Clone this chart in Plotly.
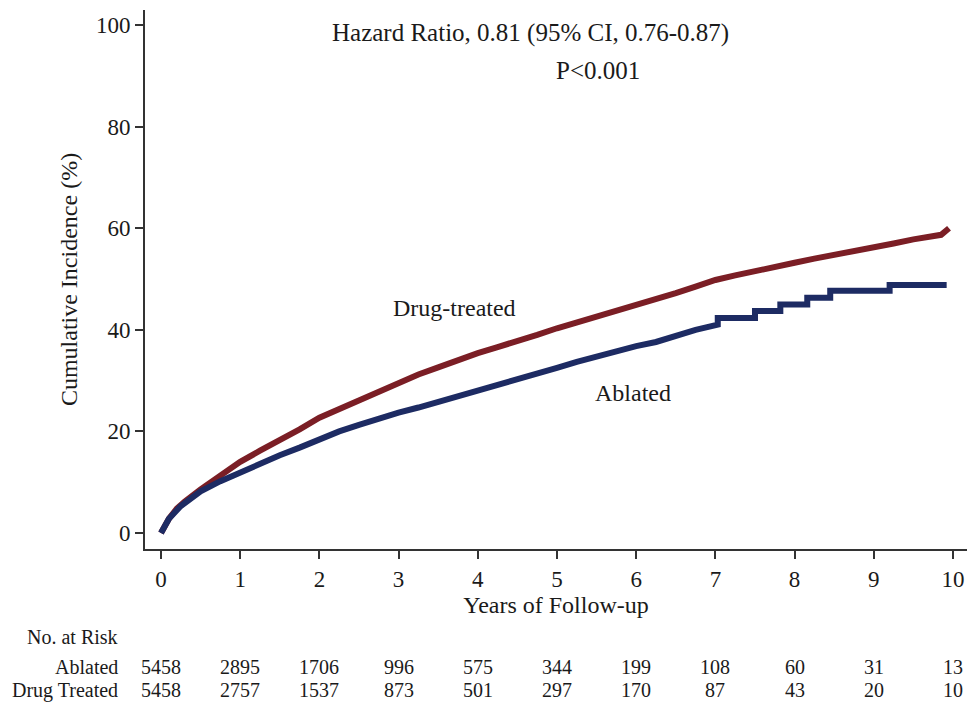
import plotly.graph_objects as go

# ---- Data ----
drug_t = [0, 0.05, 0.1, 0.2, 0.3, 0.5, 0.75, 1.0, 1.25, 1.5, 1.75, 2.0, 2.25, 2.5, 2.75,
          3.0, 3.25, 3.5, 3.75, 4.0, 4.25, 4.5, 4.75, 5.0, 5.25, 5.5, 5.75, 6.0, 6.25,
          6.5, 6.75, 7.0, 7.25, 7.5, 7.75, 8.0, 8.25, 8.5, 8.75, 9.0, 9.25, 9.5, 9.75,
          9.85, 9.95]
drug_v = [0, 1.5, 2.8, 4.8, 6.2, 8.6, 11.3, 14.0, 16.2, 18.2, 20.4, 22.7, 24.4, 26.0, 27.8,
          29.7, 31.2, 32.6, 34.1, 35.4, 36.6, 37.7, 39.0, 40.3, 41.4, 42.5, 43.8, 45.0, 46.0,
          47.2, 48.5, 49.8, 50.7, 51.6, 52.4, 53.2, 54.0, 54.7, 55.4, 56.2, 57.0, 57.8, 58.4,
          58.7, 60.0]

abl_t = [0, 0.1, 0.25, 0.5, 0.75, 1.0, 1.25, 1.5, 1.75, 2.0, 2.25, 2.5, 2.75, 3.0, 3.25,
         3.5, 3.75, 4.0, 4.25, 4.5, 4.75, 5.0, 5.25, 5.5, 5.75, 6.0, 6.25, 6.5, 6.75,
         7.03, 7.03, 7.5, 7.5, 7.82, 7.82, 8.16, 8.16, 8.45, 8.45, 9.2, 9.2, 9.92]
abl_v = [0, 2.8, 5.3, 8.2, 10.2, 12.0, 13.8, 15.3, 16.8, 18.5, 20.0, 21.3, 22.6, 23.7, 24.7,
         25.8, 27.0, 28.1, 29.1, 30.0, 31.3, 32.5, 33.7, 34.8, 35.8, 36.8, 37.6, 38.9, 40.0,
         41.0, 42.3, 42.3, 43.7, 43.7, 45.0, 45.0, 46.3, 46.3, 47.7, 47.7, 48.8, 48.8]

risk_times = [0, 1, 2, 3, 4, 5, 6, 7, 8, 9, 10]
risk_ablated = [5458, 2895, 1706, 996, 575, 344, 199, 108, 60, 31, 13]
risk_drug = [5458, 2757, 1537, 873, 501, 297, 170, 87, 43, 20, 10]

x_ticks = [0, 1, 2, 3, 4, 5, 6, 7, 8, 9, 10]
y_ticks = [0, 20, 40, 60, 80, 100]

RED = "#7b1e25"
BLUE = "#1d2b63"
INK = "#1a1a1a"
FONT = "Liberation Serif"

fig = go.Figure()
fig.add_trace(go.Scatter(x=drug_t, y=drug_v, mode="lines", name="Drug-treated",
                         line=dict(color=RED, width=6)))
fig.add_trace(go.Scatter(x=abl_t, y=abl_v, mode="lines", name="Ablated",
                         line=dict(color=BLUE, width=6)))

ann = []
ann.append(dict(x=4.66, y=98.4, xref="x", yref="y", text="Hazard Ratio, 0.81 (95% CI, 0.76-0.87)",
                showarrow=False, font=dict(family=FONT, size=25, color=INK)))
ann.append(dict(x=5.52, y=91.0, xref="x", yref="y", text="P<0.001",
                showarrow=False, font=dict(family=FONT, size=25, color=INK)))
ann.append(dict(x=3.71, y=44.3, xref="x", yref="y", text="Drug-treated",
                showarrow=False, font=dict(family=FONT, size=24, color=INK)))
ann.append(dict(x=5.96, y=27.6, xref="x", yref="y", text="Ablated",
                showarrow=False, font=dict(family=FONT, size=24, color=INK)))

# Number at risk table
ann.append(dict(x=-0.0304, y=-0.163, xref="paper", yref="paper", text="No. at Risk",
                xanchor="right", yanchor="middle", showarrow=False,
                font=dict(family=FONT, size=20, color=INK)))
ann.append(dict(x=-0.0304, y=-0.219, xref="paper", yref="paper", text="Ablated",
                xanchor="right", yanchor="middle", showarrow=False,
                font=dict(family=FONT, size=20, color=INK)))
ann.append(dict(x=-0.0304, y=-0.262, xref="paper", yref="paper", text="Drug Treated",
                xanchor="right", yanchor="middle", showarrow=False,
                font=dict(family=FONT, size=20, color=INK)))
for t, a, d in zip(risk_times, risk_ablated, risk_drug):
    ann.append(dict(x=t, y=-0.219, xref="x", yref="paper", text=str(a), xanchor="center",
                    yanchor="middle", showarrow=False, font=dict(family=FONT, size=20, color=INK)))
    ann.append(dict(x=t, y=-0.262, xref="x", yref="paper", text=str(d), xanchor="center",
                    yanchor="middle", showarrow=False, font=dict(family=FONT, size=20, color=INK)))

fig.update_layout(
    width=967, height=702,
    margin=dict(l=145, r=0, t=10, b=153),
    paper_bgcolor="white", plot_bgcolor="white",
    showlegend=False,
    font=dict(family=FONT, size=23, color=INK),
    annotations=ann,
    xaxis=dict(range=[-0.202, 10.177], tickvals=x_ticks, ticks="outside", ticklen=8,
               tickwidth=2, tickcolor="#333", showline=True, linecolor="#333", linewidth=2,
               showgrid=False, zeroline=False, tickfont=dict(family=FONT, size=23, color=INK),
               title=dict(text="Years of Follow-up", font=dict(family=FONT, size=24, color=INK),
                          standoff=4),
               automargin=False),
    yaxis=dict(range=[-3.15, 102.95], tickvals=y_ticks, ticks="outside", ticklen=8,
               tickwidth=2, tickcolor="#333", showline=True, linecolor="#333", linewidth=2,
               showgrid=False, zeroline=False, tickfont=dict(family=FONT, size=23, color=INK),
               title=dict(text="Cumulative Incidence (%)", font=dict(family=FONT, size=24, color=INK),
                          standoff=12),
               automargin=False),
)

fig.write_html("out.html")
